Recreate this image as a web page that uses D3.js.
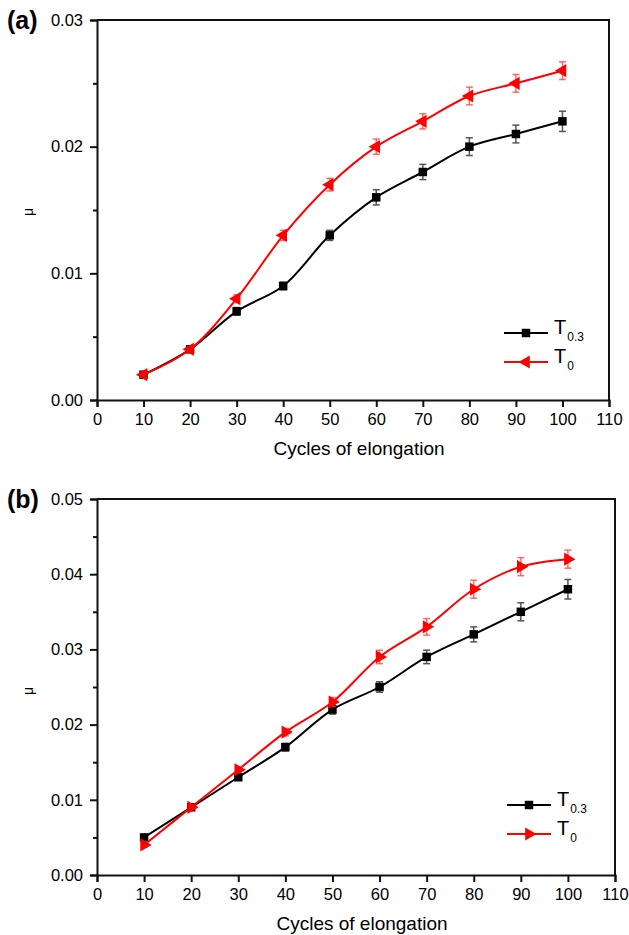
<!DOCTYPE html>
<html>
<head>
<meta charset="utf-8">
<script src="https://cdn.jsdelivr.net/npm/d3@7"></script>
<style>
  html, body { margin: 0; padding: 0; background: #fff; }
  svg { display: block; font-family: "Liberation Sans", Arial, sans-serif; }
</style>
</head>
<body>
<svg id="chart" width="629" height="935"></svg>
<script>
// ---- data ----
const cycles = [10, 20, 30, 40, 50, 60, 70, 80, 90, 100];
const xTickValues = [0, 10, 20, 30, 40, 50, 60, 70, 80, 90, 100, 110];

const aT03 = [0.002, 0.004, 0.007, 0.009, 0.013, 0.016, 0.018, 0.020, 0.021, 0.022];
const aT03Err = [0.0002, 0.0002, 0.0003, 0.0003, 0.0004, 0.0006, 0.0006, 0.0007, 0.0007, 0.0008];
const aT0 = [0.002, 0.004, 0.008, 0.013, 0.017, 0.020, 0.022, 0.024, 0.025, 0.026];
const aT0Err = [0.0002, 0.0002, 0.0003, 0.0004, 0.0005, 0.0006, 0.0006, 0.0007, 0.0007, 0.0007];
const aYTicks = [0, 0.01, 0.02, 0.03];

const bT03 = [0.005, 0.009, 0.013, 0.017, 0.022, 0.025, 0.029, 0.032, 0.035, 0.038];
const bT03Err = [0.0003, 0.0003, 0.0004, 0.0005, 0.0006, 0.0007, 0.0009, 0.0010, 0.0012, 0.0013];
const bT0 = [0.004, 0.009, 0.014, 0.019, 0.023, 0.029, 0.033, 0.038, 0.041, 0.042];
const bT0Err = [0.0003, 0.0003, 0.0004, 0.0005, 0.0006, 0.0009, 0.0011, 0.0012, 0.0012, 0.0012];
const bYTicks = [0, 0.01, 0.02, 0.03, 0.04, 0.05];

const xLabel = "Cycles of elongation";
const yLabel = "\u03bc";

// ---- layout ----
const panels = [
  { tag: "(a)", left: 97, right: 609, top: 20, bottom: 400, yMax: 0.03, yTicks: aYTicks,
    s1: aT03, e1: aT03Err, s2: aT0, e2: aT0Err, triRot: -90,
    legX: 504, legY1: 333, legY2: 362, muY: 212 },
  { tag: "(b)", left: 97, right: 615, top: 499, bottom: 875, yMax: 0.05, yTicks: bYTicks,
    s1: bT03, e1: bT03Err, s2: bT0, e2: bT0Err, triRot: 90,
    legX: 507, legY1: 805, legY2: 834, muY: 691 }
];

const svg = d3.select("#chart");
const RED = "#ff0000";
const BLK = "#000000";

panels.forEach(p => {
  const g = svg.append("g");
  const x = d3.scaleLinear().domain([0, 110]).range([p.left, p.right]);
  const y = d3.scaleLinear().domain([0, p.yMax]).range([p.bottom, p.top]);

  // frame (top & right)
  g.append("path")
    .attr("d", `M${p.left},${p.top}H${p.right}V${p.bottom}`)
    .attr("fill", "none").attr("stroke", "#111").attr("stroke-width", 2);

  // minor y ticks
  const minor = d3.range(0.005, p.yMax, 0.01);
  g.append("g").attr("transform", `translate(${p.left},0)`)
    .call(d3.axisLeft(y).tickValues(minor).tickSize(4).tickFormat(""))
    .call(a => a.select(".domain").remove())
    .call(a => a.selectAll("line").attr("stroke", "#111").attr("stroke-width", 2));

  // y axis
  g.append("g").attr("transform", `translate(${p.left},0)`)
    .call(d3.axisLeft(y).tickValues(p.yTicks).tickSize(7).tickPadding(7).tickFormat(d3.format(".2f")))
    .call(a => a.select(".domain").attr("stroke", "#111").attr("stroke-width", 2))
    .call(a => a.selectAll("line").attr("stroke", "#111").attr("stroke-width", 2))
    .call(a => a.selectAll("text").attr("font-size", 16.5).attr("fill", "#000")
      .attr("font-family", "Liberation Sans, Arial, sans-serif"));

  // x axis
  g.append("g").attr("transform", `translate(0,${p.bottom})`)
    .call(d3.axisBottom(x).tickValues(xTickValues).tickSize(7).tickPadding(6))
    .call(a => a.select(".domain").attr("stroke", "#111").attr("stroke-width", 2))
    .call(a => a.selectAll("line").attr("stroke", "#111").attr("stroke-width", 2))
    .call(a => a.selectAll("text").attr("font-size", 16.5).attr("fill", "#000")
      .attr("font-family", "Liberation Sans, Arial, sans-serif"));

  // axis labels
  g.append("text").attr("x", (p.left + p.right) / 2 + 6).attr("y", p.bottom + 55)
    .attr("text-anchor", "middle").attr("font-size", 19).text(xLabel);
  g.append("text").attr("transform", `translate(33,${p.muY}) rotate(-90)`)
    .attr("text-anchor", "middle").attr("font-size", 14).text(yLabel);

  // panel tag
  g.append("text").attr("x", 7).attr("y", p.top + 9).attr("font-size", 25)
    .attr("font-weight", "bold").text(p.tag);

  const line = d3.line().x((d, i) => x(cycles[i])).y(d => y(d))
    .curve(d3.curveCatmullRom.alpha(0.5));

  const triangle = d3.symbol().type(d3.symbolTriangle).size(75);
  const square = d3.symbol().type(d3.symbolSquare).size(72);

  function series(vals, errs, color, errColor, marker, rot) {
    g.append("path").attr("d", line(vals)).attr("fill", "none")
      .attr("stroke", color).attr("stroke-width", 2);
    const eb = g.append("g").attr("stroke", errColor).attr("stroke-width", 1.5);
    vals.forEach((v, i) => {
      const cx = x(cycles[i]);
      const y0 = y(v - errs[i]), y1 = y(v + errs[i]);
      eb.append("line").attr("x1", cx).attr("x2", cx).attr("y1", y0).attr("y2", y1);
      eb.append("line").attr("x1", cx - 3.5).attr("x2", cx + 3.5).attr("y1", y0).attr("y2", y0);
      eb.append("line").attr("x1", cx - 3.5).attr("x2", cx + 3.5).attr("y1", y1).attr("y2", y1);
    });
    vals.forEach((v, i) => {
      g.append("path").attr("d", marker())
        .attr("transform", `translate(${x(cycles[i])},${y(v)}) rotate(${rot})`)
        .attr("fill", color);
    });
  }

  series(p.s1, p.e1, BLK, "#555", square, 0);
  series(p.s2, p.e2, RED, "rgba(255,60,60,0.75)", triangle, p.triRot);

  // legend
  const legItems = [
    { color: BLK, marker: square, rot: 0, sub: "0.3", ly: p.legY1 },
    { color: RED, marker: triangle, rot: p.triRot, sub: "0", ly: p.legY2 }
  ];
  legItems.forEach(it => {
    g.append("line").attr("x1", p.legX).attr("x2", p.legX + 44)
      .attr("y1", it.ly).attr("y2", it.ly).attr("stroke", it.color).attr("stroke-width", 2);
    g.append("path").attr("d", it.marker())
      .attr("transform", `translate(${p.legX + 22},${it.ly}) rotate(${it.rot})`)
      .attr("fill", it.color);
    const t = g.append("text").attr("x", p.legX + 50).attr("y", it.ly + 1).attr("font-size", 20);
    t.append("tspan").text("T");
    t.append("tspan").attr("font-size", 12).attr("dy", 7).attr("dx", 1).text(it.sub);
  });
});
</script>
</body>
</html>
